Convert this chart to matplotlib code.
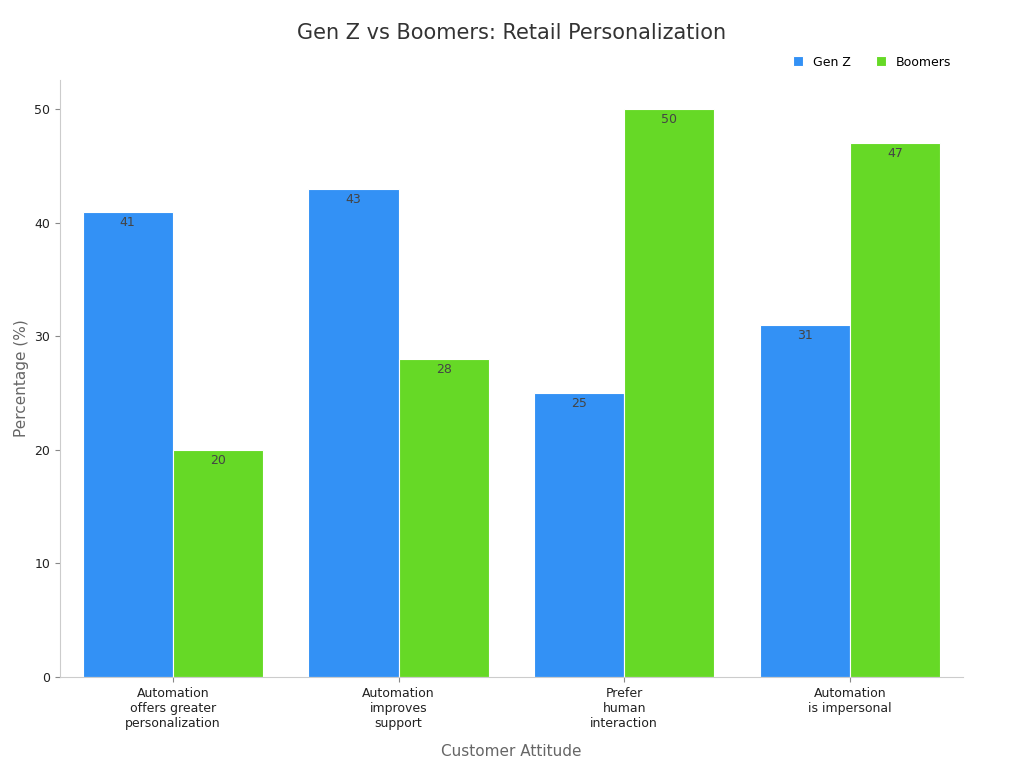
import numpy as np
import matplotlib.pyplot as plt

categories = ['Automation\noffers greater\npersonalization', 'Automation\nimproves\nsupport',
              'Prefer\nhuman\ninteraction', 'Automation\nis impersonal']
gen_z = [41, 43, 25, 31]
boomers = [20, 28, 50, 47]

fig = plt.figure(figsize=(10.24, 7.68), dpi=100)
ax = fig.add_axes([0.0586, 0.1185, 0.8815, 0.7775])

x = np.arange(len(categories))
w = 0.4
b1 = ax.bar(x - w / 2, gen_z, w, color='#3391f5', edgecolor='white', linewidth=0.8, label='Gen Z')
b2 = ax.bar(x + w / 2, boomers, w, color='#66d926', edgecolor='white', linewidth=0.8, label='Boomers')

for bars in (b1, b2):
    for r in bars:
        ax.text(r.get_x() + r.get_width() / 2, r.get_height() - 0.35, '%d' % r.get_height(),
                ha='center', va='top', fontsize=9, color='#444444')

ax.set_xlim(-0.5, 3.5)
ax.set_ylim(0, 52.6)
ax.set_yticks(range(0, 51, 10))
ax.set_xticks(x)
ax.set_xticklabels(categories, fontsize=9, color='#222222')
ax.tick_params(axis='y', labelsize=9, colors='#222222')
ax.tick_params(axis='both', color='#888888')
for s in ('top', 'right'):
    ax.spines[s].set_visible(False)
for s in ('left', 'bottom'):
    ax.spines[s].set_color('#cccccc')

ax.set_xlabel('Customer Attitude', fontsize=11, color='#666666', labelpad=10)
ax.set_ylabel('Percentage (%)', fontsize=11, color='#666666')
fig.suptitle('Gen Z vs Boomers: Retail Personalization', fontsize=15, color='#333333', y=0.97)
ax.legend(loc='lower right', bbox_to_anchor=(1.0, 1.0), ncol=2, frameon=False, fontsize=9,
          handlelength=0.8, handleheight=0.8, columnspacing=2)

fig.savefig('out.png', dpi=100)
